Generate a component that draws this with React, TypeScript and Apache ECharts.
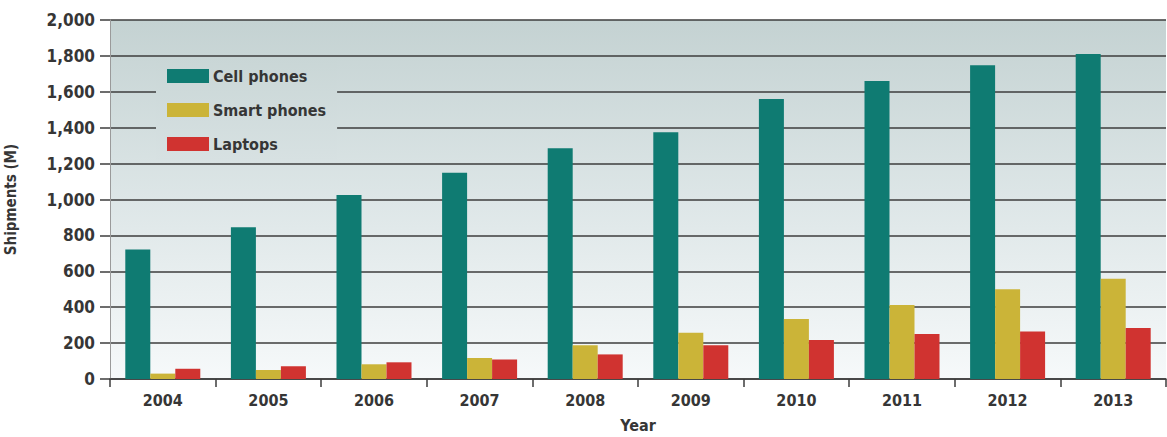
import React, { useEffect, useRef } from "react";
import * as echarts from "echarts";

const years = ["2004", "2005", "2006", "2007", "2008", "2009", "2010", "2011", "2012", "2013"];
const cellPhones = [722, 845, 1025, 1149, 1285, 1374, 1560, 1660, 1748, 1811];
const smartPhones = [30, 50, 82, 117, 188, 258, 334, 412, 500, 559];
const laptops = [57, 71, 93, 108, 137, 188, 217, 251, 264, 284];
const yTicks = { min: 0, max: 2000, interval: 200 };

const FONT = "'DejaVu Sans Condensed', 'Liberation Sans Narrow', 'Roboto', sans-serif";
const TXT = "#363636";
const GRIDC = "#3c3c3c";

export default function App() {
  const ref = useRef<HTMLDivElement>(null);
  useEffect(() => {
    if (!ref.current) return;
    const chart = echarts.init(ref.current, undefined, { renderer: "svg" });
    const barBase = { type: "bar" as const, barWidth: 25, barGap: "0%" };
    chart.setOption({
      animation: false,
      backgroundColor: "#ffffff",
      textStyle: { fontFamily: FONT },
      grid: {
        left: 110,
        width: 1056,
        top: 20,
        height: 359,
        outerBoundsMode: "none",
        containLabel: false,
        show: true,
        borderWidth: 0,
        backgroundColor: {
          type: "linear",
          x: 0, y: 0, x2: 0, y2: 1,
          colorStops: [
            { offset: 0, color: "#c4d2d2" },
            { offset: 0.5, color: "#dde6e7" },
            { offset: 1, color: "#f6f9fa" },
          ],
        },
      },
      legend: {
        orient: "vertical",
        left: 156,
        top: 57,
        padding: [11, 11, 8, 11],
        itemWidth: 42,
        itemHeight: 14,
        itemGap: 18,
        icon: "rect",
        backgroundColor: {
          type: "linear",
          x: 0, y: 0, x2: 0, y2: 1,
          colorStops: [
            { offset: 0, color: "#c9d6d6" },
            { offset: 1, color: "#d7e1e2" },
          ],
        },
        textStyle: {
          fontFamily: FONT,
          fontWeight: "bold",
          fontSize: 16,
          color: TXT,
          lineHeight: 14,
          padding: [0, 0, 0, -1],
        },
        data: ["Cell phones", "Smart phones", "Laptops"],
      },
      xAxis: {
        type: "category",
        data: years,
        name: "Year",
        nameLocation: "middle",
        nameGap: 38,
        nameTextStyle: { fontFamily: FONT, fontWeight: "bold", fontSize: 16, color: TXT },
        axisLine: { show: true, lineStyle: { color: GRIDC, width: 1.5 } },
        axisTick: { show: true, length: 8, lineStyle: { color: GRIDC, width: 1.5 } },
        axisLabel: { margin: 13, fontFamily: FONT, fontWeight: "bold", fontSize: 16, color: TXT },
      },
      yAxis: {
        type: "value",
        min: yTicks.min,
        max: yTicks.max,
        interval: yTicks.interval,
        name: "Shipments (M)",
        nameLocation: "middle",
        nameGap: 92,
        nameTextStyle: { fontFamily: FONT, fontWeight: "bold", fontSize: 15, color: TXT },
        axisLine: { show: true, lineStyle: { color: "#9a9a9a", width: 1 } },
        axisTick: { show: true, length: 10, lineStyle: { color: GRIDC, width: 1.5 } },
        splitLine: { show: true, lineStyle: { color: GRIDC, width: 1.5 } },
        axisLabel: {
          margin: 15,
          fontFamily: FONT,
          fontWeight: "bold",
          fontSize: 17,
          color: TXT,
          formatter: (v: number) => v.toLocaleString("en-US"),
        },
      },
      series: [
        { ...barBase, name: "Cell phones", data: cellPhones, itemStyle: { color: "#0f7b72" } },
        { ...barBase, name: "Smart phones", data: smartPhones, itemStyle: { color: "#cbb438" } },
        { ...barBase, name: "Laptops", data: laptops, itemStyle: { color: "#d03330" } },
      ],
    });
    return () => chart.dispose();
  }, []);
  return (
    <div
      ref={ref}
      style={{ position: "absolute", left: 0, top: 0, width: 1167, height: 437 }}
    />
  );
}
